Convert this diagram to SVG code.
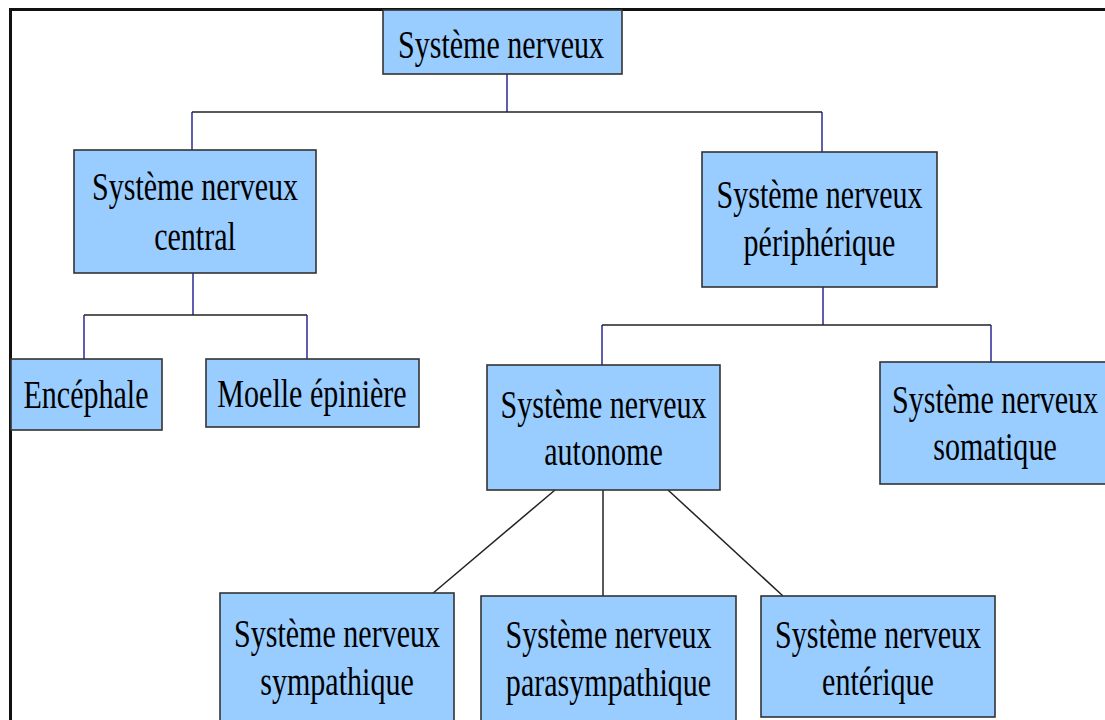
<svg xmlns="http://www.w3.org/2000/svg" width="1105" height="720" viewBox="0 0 1105 720">
  <style>
    .box { fill: #99ccff; stroke: #333333; stroke-width: 1.6; }
    .t { font-family: "Liberation Serif", "Times New Roman", serif; font-size: 41px; fill: #000000; text-anchor: middle; }
    .v { stroke: #1a1a8c; stroke-width: 1.4; fill: none; }
    .h { stroke: #222222; stroke-width: 1.6; fill: none; }
    .d { stroke: #222222; stroke-width: 1.5; fill: none; }
  </style>
  <rect x="0" y="0" width="1105" height="720" fill="#ffffff"/>
  <path d="M10.5,722 V9.5 H1107" fill="none" stroke="#111111" stroke-width="3"/>

  <g id="connectors">
    <line class="v" x1="507" y1="74" x2="507" y2="112"/>
    <line class="h" x1="192" y1="112" x2="822" y2="112"/>
    <line class="v" x1="192" y1="112" x2="192" y2="150"/>
    <line class="v" x1="822" y1="112" x2="822" y2="152"/>

    <line class="v" x1="193" y1="273" x2="193" y2="315"/>
    <line class="h" x1="84" y1="315" x2="307" y2="315"/>
    <line class="v" x1="84" y1="315" x2="84" y2="359"/>
    <line class="v" x1="307" y1="315" x2="307" y2="359"/>

    <line class="v" x1="823" y1="287" x2="823" y2="325"/>
    <line class="h" x1="602" y1="325" x2="991" y2="325"/>
    <line class="v" x1="602" y1="325" x2="602" y2="365"/>
    <line class="v" x1="991" y1="325" x2="991" y2="362"/>

    <line class="d" x1="555" y1="490" x2="432" y2="594"/>
    <line class="d" x1="603" y1="490" x2="603" y2="596"/>
    <line class="d" x1="668" y1="490" x2="783" y2="596"/>
  </g>

  <g id="node-root">
    <rect class="box" x="383" y="10" width="239" height="64"/>
    <text class="t" transform="translate(501,58) scale(0.733,1)">Système nerveux</text>
  </g>

  <g id="node-central">
    <rect class="box" x="74" y="150" width="242" height="123"/>
    <text class="t" transform="translate(195,200) scale(0.733,1)"><tspan x="0" y="0">Système nerveux</tspan><tspan x="0" y="50">central</tspan></text>
  </g>

  <g id="node-peripherique">
    <rect class="box" x="702" y="152" width="235" height="135"/>
    <text class="t" transform="translate(819.5,208) scale(0.733,1)"><tspan x="0" y="0">Système nerveux</tspan><tspan x="0" y="48">périphérique</tspan></text>
  </g>

  <g id="node-encephale">
    <rect class="box" x="11" y="359" width="151" height="71"/>
    <text class="t" transform="translate(86,408) scale(0.733,1)">Encéphale</text>
  </g>

  <g id="node-moelle">
    <rect class="box" x="206" y="359" width="213" height="68"/>
    <text class="t" transform="translate(312,407) scale(0.733,1)">Moelle épinière</text>
  </g>

  <g id="node-autonome">
    <rect class="box" x="487" y="365" width="233" height="125"/>
    <text class="t" transform="translate(603.5,418) scale(0.733,1)"><tspan x="0" y="0">Système nerveux</tspan><tspan x="0" y="47">autonome</tspan></text>
  </g>

  <g id="node-somatique">
    <rect class="box" x="880" y="362" width="232" height="122"/>
    <text class="t" transform="translate(995,413) scale(0.733,1)"><tspan x="0" y="0">Système nerveux</tspan><tspan x="0" y="47">somatique</tspan></text>
  </g>

  <g id="node-sympathique">
    <rect class="box" x="220" y="593" width="234" height="128"/>
    <text class="t" transform="translate(337,647) scale(0.733,1)"><tspan x="0" y="0">Système nerveux</tspan><tspan x="0" y="48">sympathique</tspan></text>
  </g>

  <g id="node-parasympathique">
    <rect class="box" x="481" y="596" width="255" height="130"/>
    <text class="t" transform="translate(608.5,648) scale(0.733,1)"><tspan x="0" y="0">Système nerveux</tspan><tspan x="0" y="48">parasympathique</tspan></text>
  </g>

  <g id="node-enterique">
    <rect class="box" x="761" y="596" width="234" height="121"/>
    <text class="t" transform="translate(878,648) scale(0.733,1)"><tspan x="0" y="0">Système nerveux</tspan><tspan x="0" y="47">entérique</tspan></text>
  </g>
</svg>
